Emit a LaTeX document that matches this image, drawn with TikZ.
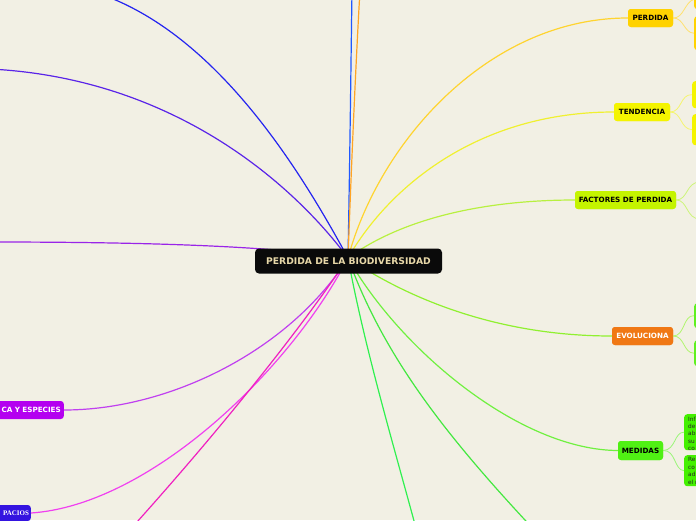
\documentclass[tikz,border=0pt]{standalone}
\usepackage{fontspec}
\setmainfont{DejaVu Sans}[BoldFont={DejaVu Sans Bold}]
\newfontfamily\serifbold{Liberation Serif Bold}
\definecolor{bg}{HTML}{F2F0E4}
\definecolor{cBlueV}{HTML}{2058FF}
\definecolor{cOrange}{HTML}{FFA424}
\definecolor{cBlue}{HTML}{2424F0}
\definecolor{cIndigo}{HTML}{5A24E8}
\definecolor{cViolet}{HTML}{9A24E8}
\definecolor{cPurple}{HTML}{C040F0}
\definecolor{cPink}{HTML}{F040F0}
\definecolor{cRose}{HTML}{F020C0}
\definecolor{cGreenA}{HTML}{30F050}
\definecolor{cGreenB}{HTML}{44E840}
\definecolor{cGreenC}{HTML}{70F040}
\definecolor{cGreenD}{HTML}{90F030}
\definecolor{cLime}{HTML}{B8F040}
\definecolor{cYellow}{HTML}{F0F030}
\definecolor{cGold}{HTML}{FFD430}
\definecolor{nGold}{HTML}{FFD200}
\definecolor{nYellow}{HTML}{F4F400}
\definecolor{nLime}{HTML}{C4F400}
\definecolor{nOrange}{HTML}{F07814}
\definecolor{nGreen}{HTML}{50F014}
\definecolor{nGreenV}{HTML}{60F020}
\definecolor{nGreenC}{HTML}{44F000}
\definecolor{nPurple}{HTML}{B400F0}
\definecolor{nIndigo}{HTML}{3414E0}
\definecolor{nText}{HTML}{E8D8A8}
\begin{document}
\begin{tikzpicture}[x=1pt,y=-1pt,
  branch/.style={line width=1.2pt},
  sub/.style={line width=0.8pt},
  topic/.style={rounded corners=3pt, inner sep=0pt, font=\fontsize{7.2}{8}\selectfont\bfseries, minimum height=18pt},
  kid/.style={rounded corners=3pt, inner sep=0pt, anchor=north west},
  kidtext/.style={anchor=north west, font=\fontsize{5.8}{7.4}\selectfont, align=left, inner sep=0pt, text=black!85}
]
\fill[bg] (0,0) rectangle (696,520);
\useasboundingbox (0,0) rectangle (696,520);
\clip (0,0) rectangle (696,520);

\coordinate (o) at (348,258);
% far-off ends of the branches whose nodes lie outside the picture
\coordinate (eBlueV) at (352,-10);
\coordinate (eOrange) at (360,-10);
\coordinate (eBlue) at (80,-12);
\coordinate (eIndigo) at (-10,69);
\coordinate (eViolet) at (-10,242);
\coordinate (eRose) at (128,532);
\coordinate (eGreenA) at (417,532);
\coordinate (eGreenB) at (538,534);

% nodes
\node[topic, fill=nGold, minimum width=45pt] (perdida) at (650.5,18) {PERDIDA};
\node[topic, fill=nYellow, minimum width=56pt] (tendencia) at (642,112) {TENDENCIA};
\node[topic, fill=nLime, minimum width=101pt] (factores) at (625.5,200) {FACTORES DE PERDIDA};
\node[topic, fill=nOrange, text=white, minimum width=61pt] (evoluciona) at (642.5,336) {EVOLUCIONA};
\node[topic, fill=nGreen, minimum width=45pt, minimum height=19pt] (medidas) at (640.5,450.5) {MEDIDAS};
\node[topic, fill=nPurple, text=white, minimum width=78pt, anchor=east, align=right, text width=72pt] (especies) at (64,410) {CA Y ESPECIES};
\node[topic, fill=nIndigo, text=white, minimum width=46pt, minimum height=16pt, anchor=east, align=right, text width=42.5pt, font=\fontsize{7}{8}\selectfont\serifbold] (espacios) at (31,513) {PACIOS};

% child boxes at the right edge
\node[kid, fill=nGold, minimum width=30pt, minimum height=20pt] (p1) at (694,-11) {};
\node[kid, fill=nGold, minimum width=30pt, minimum height=34pt] (p2) at (694,16) {};
\node[kid, fill=nYellow, minimum width=30pt, minimum height=27pt] (t1) at (692,81) {};
\node[kid, fill=nYellow, minimum width=30pt, minimum height=31pt] (t2) at (692,114) {};
\node[kid, fill=nGreenV, minimum width=30pt, minimum height=25pt] (v1) at (694,303) {};
\node[kid, fill=nGreenV, minimum width=30pt, minimum height=26pt] (v2) at (694,340) {};
\node[kid, fill=nGreenC, minimum width=40pt, minimum height=36pt] (m1) at (684,414) {};
\node[kid, fill=nGreenC, minimum width=40pt, minimum height=31pt] (m2) at (684,455) {};
\node[kidtext] (m1t) at (688,416.5) {Inf\\de\\ab\\su\\co};
\node[kidtext] (m2t) at (688,457.5) {Re\\co\\ad\\el r};
\coordinate (f1) at (700,182);
\coordinate (f2) at (700,219);

% connectors
\draw[branch, cBlueV] (o) .. controls (350,150) and (351,60) .. (eBlueV);
\draw[branch, cOrange] (o) .. controls (352,150) and (356,60) .. (eOrange);
\draw[branch, cBlue] (o) .. controls (300,170) and (210,20) .. (eBlue);
\draw[branch, cIndigo] (o) .. controls (290,180) and (170,78) .. (eIndigo);
\draw[branch, cViolet] (o) .. controls (270,246) and (150,242) .. (eViolet);
\draw[branch, cPurple] (o) .. controls (290,350) and (170,410) .. (especies.east);
\draw[branch, cPink] (o) .. controls (290,370) and (150,505) .. (espacios.east);
\draw[branch, cRose] (o) .. controls (300,330) and (220,430) .. (eRose);
\draw[branch, cGreenA] (o) .. controls (365,350) and (395,450) .. (eGreenA);
\draw[branch, cGreenB] (o) .. controls (385,360) and (450,440) .. (eGreenB);
\draw[branch, cGreenC] (o) .. controls (400,350) and (520,450) .. (medidas.west);
\draw[branch, cGreenD] (o) .. controls (410,300) and (500,336) .. (evoluciona.west);
\draw[branch, cLime] (o) .. controls (400,220) and (480,200) .. (factores.west);
\draw[branch, cYellow] (o) .. controls (390,185) and (480,112) .. (tendencia.west);
\draw[branch, cGold] (o) .. controls (380,140) and (490,18) .. (perdida.west);
% sub connectors
\draw[sub, cGold!70] (perdida.east) .. controls (684,18) and (684,3) .. (p1.west);
\draw[sub, cGold!70] (perdida.east) .. controls (684,18) and (684,33) .. (p2.west);
\draw[sub, cYellow!70] (tendencia.east) .. controls (682,112) and (680,94) .. (t1.west);
\draw[sub, cYellow!70] (tendencia.east) .. controls (682,112) and (680,129) .. (t2.west);
\draw[sub, cLime!70] (factores.east) .. controls (688,200) and (686,182) .. (f1);
\draw[sub, cLime!70] (factores.east) .. controls (688,200) and (686,219) .. (f2);
\draw[sub, cGreenD!70] (evoluciona.east) .. controls (685,336) and (683,315) .. (v1.west);
\draw[sub, cGreenD!70] (evoluciona.east) .. controls (685,336) and (683,353) .. (v2.west);
\draw[sub, cGreenC!70] (medidas.east) .. controls (676,450) and (674,432) .. (m1.west);
\draw[sub, cGreenC!70] (medidas.east) .. controls (676,450) and (674,470) .. (m2.west);

% redraw topic nodes on top of connectors
\node[topic, fill=nGold, minimum width=45pt] at (perdida) {PERDIDA};
\node[topic, fill=nYellow, minimum width=56pt] at (tendencia) {TENDENCIA};
\node[topic, fill=nLime, minimum width=101pt] at (factores) {FACTORES DE PERDIDA};
\node[topic, fill=nOrange, text=white, minimum width=61pt] at (evoluciona) {EVOLUCIONA};
\node[topic, fill=nGreen, minimum width=45pt, minimum height=19pt] at (medidas) {MEDIDAS};
\node[rounded corners=4pt, fill=black!96, text=nText, minimum width=187pt, minimum height=25pt, inner sep=0pt, font=\fontsize{9.2}{10}\selectfont\bfseries] (centro) at (348.5,261) {PERDIDA DE LA BIODIVERSIDAD};
\end{tikzpicture}
\end{document}
